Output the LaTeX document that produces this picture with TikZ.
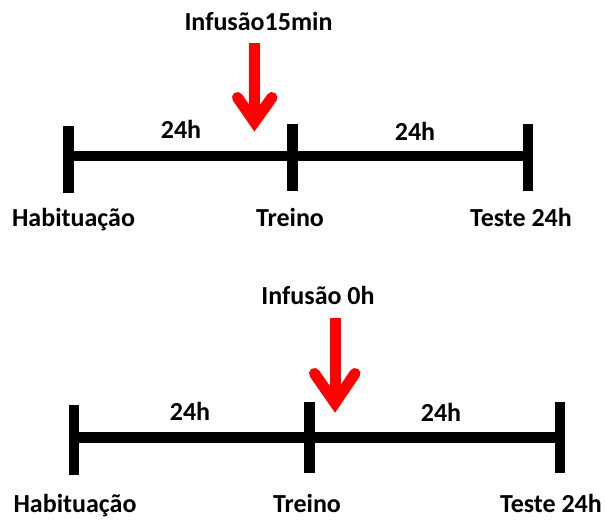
\documentclass[tikz,border=0pt]{standalone}
\usepackage{fontspec}
\setmainfont{Carlito}
\begin{document}
\begin{tikzpicture}[x=1bp,y=-1bp,
  bar/.style={line width=10.5bp,black},
  lbl/.style={anchor=base,inner sep=0pt,font=\fontsize{26bp}{30bp}\selectfont\bfseries},
  infarrow/.style={line width=11bp,red},
  chevron/.style={line width=11bp,red,line cap=round,line join=miter,miter limit=10}]
\useasboundingbox (0,0) rectangle (605,520);

% ---- first timeline: infusion 15 min before training ----
\coordinate (h1) at (68.5,156);
\coordinate (t1) at (292.5,156);
\coordinate (e1) at (528,156);
\draw[bar] (h1) -- (e1);
\draw[bar] ([yshift=-37]h1) -- ([yshift=30]h1);
\draw[bar] ([yshift=-35]t1) -- ([yshift=32]t1);
\draw[bar] ([yshift=-35]e1) -- ([yshift=32]e1);

\node[lbl] (inf1) at (258.5,31) {Infusão15min};
\coordinate (a1top) at (254.5,43);
\coordinate (a1tip) at (254.5,122);
\draw[infarrow] (a1top) -- (a1tip);
\draw[chevron] (237.5,97.5) -- (a1tip) -- (272,97.5);

\node[lbl] (d1a) at (181,139) {24h};
\node[lbl] (d1b) at (415,141) {24h};
\node[lbl] (hab1) at (73.5,227) {Habituação};
\node[lbl] (tre1) at (290,227) {Treino};
\node[lbl] (tes1) at (521,227) {Teste 24h};

% ---- second timeline: infusion right after training ----
\coordinate (h2) at (74,437.5);
\coordinate (t2) at (309.5,437.5);
\coordinate (e2) at (560,437.5);
\draw[bar] (h2) -- (e2);
\draw[bar] ([yshift=-38]h2) -- ([yshift=32.5]h2);
\draw[bar] ([yshift=-36]t2) -- ([yshift=35.5]t2);
\draw[bar] ([yshift=-36]e2) -- ([yshift=35.5]e2);

\node[lbl] (inf2) at (318,304) {Infusão 0h};
\coordinate (a2top) at (335,318);
\coordinate (a2tip) at (335,403);
\draw[infarrow] (a2top) -- (a2tip);
\draw[chevron] (314.5,373.5) -- (a2tip) -- (355,373.5);

\node[lbl] (d2a) at (190,420) {24h};
\node[lbl] (d2b) at (441,421) {24h};
\node[lbl] (hab2) at (75,512) {Habituação};
\node[lbl] (tre2) at (307,512) {Treino};
\node[lbl] (tes2) at (551,512) {Teste 24h};
\end{tikzpicture}
\end{document}
